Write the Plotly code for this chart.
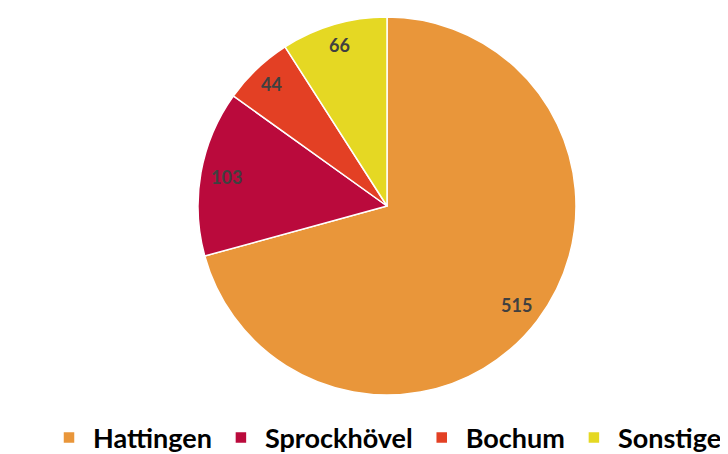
import math
import plotly.graph_objects as go

labels = ["Hattingen", "Sprockhövel", "Bochum", "Sonstige"]
values = [515, 103, 44, 66]
colors = ["#E9963A", "#BA0A3C", "#E34024", "#E5D823"]

W, H = 728, 454
OFF = 8  # page body margin shifts the figure by 8px
cx_px, cy_px, r_px = 387 - OFF, 206 - OFF, 189

fig = go.Figure(go.Pie(
    labels=labels,
    values=values,
    sort=False,
    direction="clockwise",
    rotation=0,
    marker=dict(colors=colors, line=dict(color="white", width=1.5)),
    textinfo="none",
    hoverinfo="label+value",
    domain=dict(x=[(cx_px - r_px) / W, (cx_px + r_px) / W],
                y=[1 - (cy_px + r_px) / H, 1 - (cy_px - r_px) / H]),
))

# value labels near the outer edge of each slice (like "inside end")
total = sum(values)
cum = 0
for lab, v in zip(labels, values):
    mid = (cum + v / 2) / total * 2 * math.pi
    cum += v
    f = 0.86 if lab in ("Hattingen", "Sprockhövel") else 0.89
    fig.add_annotation(
        x=(cx_px + f * r_px * math.sin(mid)) / W,
        y=1 - (cy_px - f * r_px * math.cos(mid)) / H,
        xref="paper", yref="paper", xanchor="center", yanchor="middle",
        text="<b>%d</b>" % v, showarrow=False,
        font=dict(family="Lato", size=18, color="#404040"),
    )

fig.update_layout(
    width=W, height=H,
    margin=dict(l=0, r=0, t=0, b=0, autoexpand=False),
    paper_bgcolor="white",
    showlegend=True,
    legend=dict(orientation="h", x=(386 - OFF) / W, xanchor="center",
                y=1 - (438 - OFF) / H, yanchor="middle",
                font=dict(family="Lato", size=27, color="black", weight="bold"),
                itemwidth=38, itemclick=False),
)

fig.write_html("out.html")
